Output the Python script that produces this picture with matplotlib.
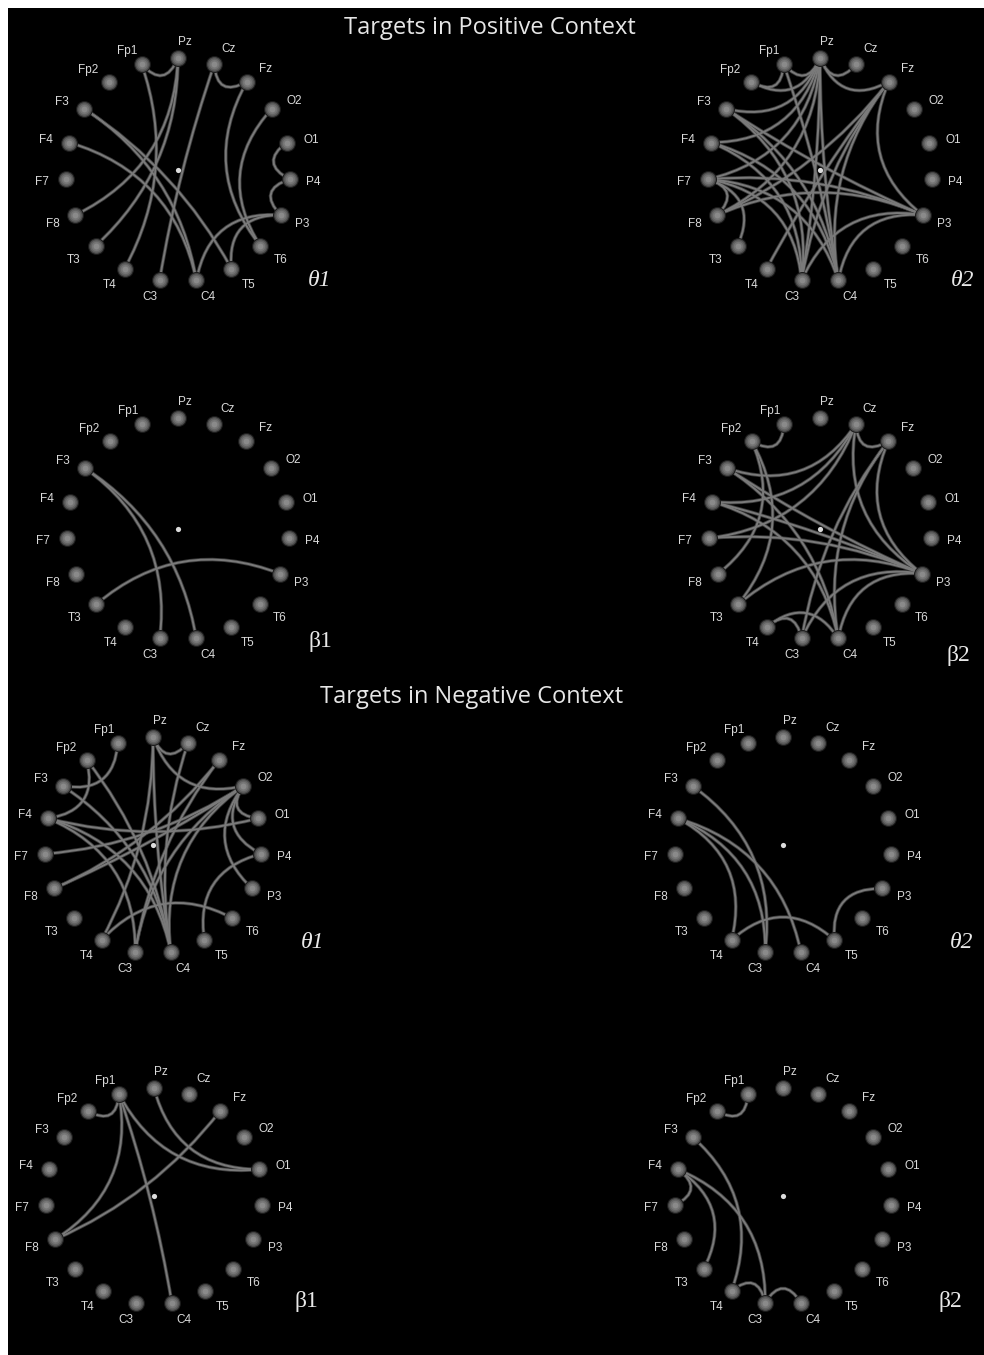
import numpy as np
import matplotlib.pyplot as plt
from matplotlib.path import Path
from matplotlib.patches import PathPatch, Rectangle

# electrodes placed clockwise around the ring, starting at the top
ELECTRODES = ["Pz", "Cz", "Fz", "O2", "O1", "P4", "P3", "T6", "T5", "C4",
              "C3", "T4", "T3", "F8", "F7", "F4", "F3", "Fp2", "Fp1"]

# significant connections per condition / band
POS_THETA1 = [("Fp1", "Pz"), ("Fp1", "T4"), ("Pz", "T3"), ("Pz", "F8"),
              ("Cz", "C3"), ("Cz", "Fz"), ("Fz", "T6"), ("O2", "T6"),
              ("O1", "P4"), ("P4", "P3"), ("P3", "C4"), ("P3", "T5"),
              ("F3", "T5"), ("F3", "C4"), ("F4", "C4")]
POS_THETA2 = [("Fp1", "Fp2"), ("Fp1", "Pz"), ("Pz", "Cz"), ("Pz", "Fz"),
              ("Pz", "Fp2"), ("Pz", "F3"), ("Pz", "F4"), ("Pz", "F7"),
              ("Pz", "F8"), ("Pz", "C3"), ("Pz", "C4"), ("Fp1", "C4"),
              ("Fz", "P3"), ("Fz", "C3"), ("Fz", "F8"), ("Fz", "C4"),
              ("F3", "P3"), ("F3", "C3"), ("F3", "C4"), ("F4", "C3"),
              ("F4", "C4"), ("F7", "P3"), ("F7", "F8"), ("F7", "T3"),
              ("F7", "C3"), ("F7", "C4"), ("F8", "P3"), ("T4", "Fz"),
              ("C3", "P3"), ("C4", "P3")]
POS_BETA1 = [("F3", "C3"), ("F3", "C4"), ("T3", "P3")]
POS_BETA2 = [("Fp1", "Fp2"), ("Fp2", "T3"), ("Fp2", "F8"), ("Cz", "F3"),
             ("Cz", "F4"), ("Cz", "F7"), ("Cz", "Fz"), ("Cz", "P3"),
             ("Fz", "C3"), ("Fz", "P3"), ("Fz", "C4"), ("F3", "P3"),
             ("F3", "C4"), ("F4", "P3"), ("F4", "C4"), ("F7", "P3"),
             ("T3", "P3"), ("T4", "C3"), ("T4", "C4"), ("C3", "P3"),
             ("C4", "P3")]
NEG_THETA1 = [("Fp1", "F3"), ("Fp2", "F4"), ("Fp2", "C4"), ("F3", "C4"),
              ("F4", "O1"), ("F4", "C3"), ("F4", "C4"), ("F7", "O2"),
              ("F8", "O2"), ("F8", "Fz"), ("Pz", "Cz"), ("Pz", "O2"),
              ("Pz", "C4"), ("Pz", "T4"), ("Cz", "C4"), ("Fz", "C3"),
              ("O2", "O1"), ("O2", "P4"), ("O2", "P3"), ("O2", "C3"),
              ("O2", "C4"), ("P4", "T5"), ("T4", "T6")]
NEG_THETA2 = [("F3", "C3"), ("F4", "T4"), ("F4", "C3"), ("F4", "C4"),
              ("T4", "T5"), ("T5", "P3")]
NEG_BETA1 = [("Fp1", "Fp2"), ("Fp1", "F8"), ("Fp1", "C4"), ("Fp1", "O1"),
             ("Pz", "O1"), ("Fz", "F8")]
NEG_BETA2 = [("Fp1", "Fp2"), ("F3", "T4"), ("F4", "F7"), ("F4", "T3"),
             ("F4", "C3"), ("T4", "C3"), ("C3", "C4")]

TITLES = ["Targets in Positive Context", "Targets in Negative Context"]

# label offset from its node, in pixels
LABEL_OFFSET = {
    "Pz": (7, -16), "Cz": (14, -15), "Fz": (19, -13), "O2": (22, -8),
    "O1": (25, -3), "P4": (24, 3), "P3": (22, 9), "T6": (20, 14),
    "T5": (17, 16), "C4": (12, 17), "C3": (-10, 17), "T4": (-15, 16),
    "T3": (-22, 14), "F8": (-23, 9), "F7": (-24, 3), "F4": (-23, -3),
    "F3": (-22, -7), "Fp2": (-21, -12), "Fp1": (-14, -13),
}

# (edges, centre x, centre y, radius, tag, tag x, tag y)
PANELS = [
    (POS_THETA1, 178, 170, 112, "θ1", 320, 281),
    (POS_THETA2, 820, 170, 112, "θ2", 963, 281),
    (POS_BETA1, 178, 529, 111, "β1", 320, 641),
    (POS_BETA2, 820, 529, 111, "β2", 958, 655),
    (NEG_THETA1, 153, 845, 108, "θ1", 313, 943),
    (NEG_THETA2, 783, 845, 108, "θ2", 962, 943),
    (NEG_BETA1, 154, 1196, 108, "β1", 306, 1302),
    (NEG_BETA2, 783, 1196, 108, "β2", 950, 1302),
]


def node_xy(cx, cy, r):
    ang = np.arange(len(ELECTRODES)) * 2 * np.pi / len(ELECTRODES)
    return cx + r * np.sin(ang), cy - r * np.cos(ang)


def draw_edge(ax, i, j, xs, ys, cx, cy, r):
    n = len(ELECTRODES)
    d = min(abs(i - j), n - abs(i - j))
    mx, my = (xs[i] + xs[j]) / 2, (ys[i] + ys[j]) / 2
    vx, vy = mx - cx, my - cy
    norm = np.hypot(vx, vy)
    # neighbours bend only a little, long chords get pulled to the centre
    rc = max(0.0, 0.86 - 0.135 * d) * r
    ctrl = (cx + vx / norm * rc, cy + vy / norm * rc)
    path = Path([(xs[i], ys[i]), ctrl, (xs[j], ys[j])],
                [Path.MOVETO, Path.CURVE3, Path.CURVE3])
    ax.add_patch(PathPatch(path, fc="none", ec="#3a3a3a", lw=2.6,
                           capstyle="round", zorder=2))
    ax.add_patch(PathPatch(path, fc="none", ec="#7a7a7a", lw=1.4,
                           capstyle="round", zorder=3))


def draw_panel(ax, edges, cx, cy, r, tag, tx, ty):
    xs, ys = node_xy(cx, cy, r)
    idx = {name: k for k, name in enumerate(ELECTRODES)}
    for a, b in edges:
        draw_edge(ax, idx[a], idx[b], xs, ys, cx, cy, r)

    # shaded spheres for the electrodes
    for s, c in [(150, "#1c1c1c"), (115, "#4a4a4a"), (80, "#636363"),
                 (46, "#767676"), (18, "#8a8a8a")]:
        ax.scatter(xs, ys, s=s, c=c, lw=0, zorder=4)
    ax.scatter([cx], [cy], s=14, c="#dcdcdc", lw=0, zorder=4)

    for k, name in enumerate(ELECTRODES):
        dx, dy = LABEL_OFFSET[name]
        ax.text(xs[k] + dx, ys[k] + dy, name, ha="center", va="center",
                color="#dadada", fontsize=8.5, family="Liberation Sans",
                zorder=5)

    style = "italic" if tag.startswith("θ") else "normal"
    ax.text(tx, ty, tag, ha="center", va="center", color="#e8e8e8",
            fontsize=17, family="Liberation Serif", style=style, zorder=5)


fig = plt.figure(figsize=(9.84, 13.55), dpi=100, facecolor="white")
ax = fig.add_axes([0, 0, 1, 1])
ax.set_xlim(0, 984)
ax.set_ylim(1355, 0)
ax.axis("off")
ax.add_patch(Rectangle((8, 8), 1100, 1500, fc="black", ec="none", zorder=0))

for panel in PANELS:
    draw_panel(ax, *panel)

ax.text(490, 28, TITLES[0], ha="center", va="center", color="#e6e6e6",
        fontsize=17, family="Open Sans", zorder=5)
ax.text(472, 697, TITLES[1], ha="center", va="center", color="#e6e6e6",
        fontsize=17, family="Open Sans", zorder=5)

fig.savefig("out.png", dpi=100, facecolor=fig.get_facecolor())
